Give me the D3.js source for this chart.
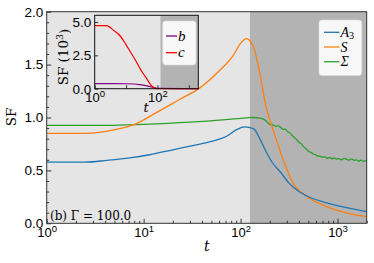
<!DOCTYPE html>
<html>
<head>
<meta charset="utf-8">
<script src="https://cdn.jsdelivr.net/npm/d3@7"></script>
<style>
body { margin: 0; background: #fff; }
svg { display: block; font-family: "DejaVu Serif", serif; }
</style>
</head>
<body>
<div id="myPlot"></div>
<script>
// data
const tMain = [1, 2.5, 4.2, 7.2, 11.5, 20, 32, 51, 71, 91, 110, 125, 138, 158, 178, 214, 260, 316, 400, 479, 760, 1200, 2000];
const a3 = [0.578, 0.578, 0.595, 0.618, 0.648, 0.695, 0.735, 0.776, 0.82, 0.885, 0.912, 0.905, 0.89, 0.80, 0.70, 0.57, 0.48, 0.38, 0.30, 0.26, 0.195, 0.15, 0.11];

const tS = [1, 2.45, 5.2, 8.3, 12.6, 23.4, 38, 60, 83, 100, 115, 135, 158, 182, 214, 275, 347, 479, 760, 1200, 2000];
const sVals = [0.85, 0.85, 0.887, 0.94, 1.03, 1.17, 1.28, 1.44, 1.58, 1.70, 1.745, 1.67, 1.42, 1.11, 0.90, 0.60, 0.38, 0.255, 0.16, 0.10, 0.063];

const tSigma = [1, 4.2, 10, 30, 70, 115, 135, 160, 180, 200, 215, 230, 245, 260, 275, 290, 305, 320, 340, 360, 380, 400, 425, 450, 475, 500, 530, 560, 590, 620, 660, 700, 740, 780, 830, 880, 930, 980, 1040, 1100, 1170, 1240, 1310, 1390, 1470, 1560, 1650, 1750, 1850, 1950, 2000];
const sigma = [0.925, 0.925, 0.935, 0.956, 0.98, 0.997, 1.0, 0.995, 0.975, 0.935, 0.93, 0.918, 0.92, 0.905, 0.888, 0.89, 0.865, 0.858, 0.83, 0.81, 0.79, 0.765, 0.75, 0.72, 0.705, 0.682, 0.672, 0.655, 0.65, 0.638, 0.632, 0.626, 0.628, 0.615, 0.622, 0.61, 0.618, 0.606, 0.612, 0.60, 0.614, 0.605, 0.598, 0.608, 0.596, 0.60, 0.588, 0.597, 0.585, 0.592, 0.588];

// inset (units of 10^3)
const tC = [1, 2.4, 4, 6.6, 9.5, 13.8, 20, 28.8, 41.7, 69, 89, 2000];
const cVals = [4.73, 4.73, 4.37, 3.93, 3.38, 2.75, 2.13, 1.45, 0.88, 0.15, 0, 0];
const tB = [1, 10, 31.6, 69, 100, 2000];
const bVals = [0.38, 0.37, 0.28, 0.12, 0.02, 0];

const tSplit = 125; // start of dark region
const yTicks = [0, 0.5, 1.0, 1.5, 2.0];
const xDecades = [1, 10, 100, 1000];
const insetYTicks = [0, 2.5, 5.0];
const insetXLabels = [1, 100];

const mainLegend = [
    { name: "A", sub: "3", color: "#1f77b4" },
    { name: "S", sub: "", color: "#ff7f0e" },
    { name: "Σ", sub: "", color: "#2ca02c" }
];
const insetLegend = [
    { name: "b", color: "#800080" },
    { name: "c", color: "#ff0000" }
];

const W = 374, H = 263;
const pLeft = 46.7, pRight = 366.7, pTop = 11.7, pBottom = 223.3;

const svg = d3.select("#myPlot").append("svg")
    .attr("width", W).attr("height", H);

const x = d3.scaleLog().domain([1, 2000]).range([pLeft, pRight]);
const y = d3.scaleLinear().domain([0, 2]).range([pBottom, pTop]);

// backgrounds
svg.append("rect").attr("x", pLeft).attr("y", pTop)
    .attr("width", x(tSplit) - pLeft).attr("height", pBottom - pTop).attr("fill", "#e5e5e5");
svg.append("rect").attr("x", x(tSplit)).attr("y", pTop)
    .attr("width", pRight - x(tSplit)).attr("height", pBottom - pTop).attr("fill", "#b3b3b3");

function minorLog(maxT) {
    const out = [];
    xDecades.forEach(d => { for (let k = 2; k <= 9; k++) if (d * k <= maxT) out.push(d * k); });
    return out;
}

function supLabels(sel, size, supSize) {
    sel.selectAll("text").each(function (d) {
        const t = d3.select(this);
        t.text(null);
        t.append("tspan").text("10").attr("font-size", size);
        t.append("tspan").text(Math.round(Math.log10(d))).attr("font-size", supSize).attr("dy", "-0.55em");
    });
}

// main axes
const gx = svg.append("g").attr("transform", "translate(0," + pBottom + ")")
    .call(d3.axisBottom(x).tickValues(xDecades).tickSizeInner(-4.5).tickSizeOuter(0).tickPadding(4));
gx.call(supLabels, "13px", "9.5px");
gx.selectAll("text").attr("fill", "#000").attr("dy", "0.95em");
svg.append("g").attr("transform", "translate(0," + pBottom + ")")
    .call(d3.axisBottom(x).tickValues(minorLog(2000)).tickFormat("").tickSizeInner(-2.5).tickSizeOuter(0));

const gy = svg.append("g").attr("transform", "translate(" + pLeft + ",0)")
    .call(d3.axisLeft(y).tickValues(yTicks).tickFormat(d3.format(".1f")).tickSizeInner(-4.5).tickSizeOuter(0).tickPadding(3.5));
gy.selectAll("text").attr("font-size", "13.5px").attr("fill", "#000");
svg.append("g").attr("transform", "translate(" + pLeft + ",0)")
    .call(d3.axisLeft(y).tickValues(d3.range(0, 2.01, 0.1).filter(v => Math.abs(v * 2 - Math.round(v * 2)) > 0.01)).tickFormat("").tickSizeInner(-2.5).tickSizeOuter(0));

svg.selectAll(".domain").remove();
svg.selectAll(".tick line").attr("stroke", "#333");

// main curves
const line = d3.line().x(d => x(d[0])).y(d => y(d[1])).curve(d3.curveMonotoneX);
svg.append("clipPath").attr("id", "mainClip").append("rect")
    .attr("x", pLeft).attr("y", pTop).attr("width", pRight - pLeft).attr("height", pBottom - pTop);

[[tSigma, sigma, "#2ca02c"], [tS, sVals, "#ff7f0e"], [tMain, a3, "#1f77b4"]].forEach(s => {
    svg.append("path")
        .datum(s[0].map((t, i) => [t, s[1][i]]))
        .attr("clip-path", "url(#mainClip)")
        .attr("fill", "none")
        .attr("stroke", s[2])
        .attr("stroke-width", 1.3)
        .attr("d", line);
});

svg.append("rect").attr("x", pLeft).attr("y", pTop).attr("width", pRight - pLeft).attr("height", pBottom - pTop)
    .attr("fill", "none").attr("stroke", "#333").attr("stroke-width", 1);

// axis labels
svg.append("text").attr("transform", "translate(15.5,117) rotate(-90)")
    .attr("text-anchor", "middle").attr("font-size", "13.5px").text("SF");
svg.append("text").attr("x", (pLeft + pRight) / 2).attr("y", 251)
    .attr("text-anchor", "middle").attr("font-size", "14px").attr("font-style", "italic").text("t");

svg.append("text").attr("x", 50).attr("y", 220).attr("font-size", "12px").text("(b) Γ = 100.0");

// main legend
const lg = svg.append("g");
lg.append("rect").attr("x", 319).attr("y", 20).attr("width", 42.7).attr("height", 55.5)
    .attr("rx", 3).attr("fill", "#fff").attr("fill-opacity", 0.9).attr("stroke", "#ddd").attr("stroke-width", 0.6);
mainLegend.forEach((d, i) => {
    const yy = 32.3 + i * 14.7;
    lg.append("line").attr("x1", 324).attr("x2", 339.5).attr("y1", yy).attr("y2", yy)
        .attr("stroke", d.color).attr("stroke-width", 1.3);
    const t = lg.append("text").attr("x", 340.5).attr("y", yy + 4.5)
        .attr("font-family", "'Liberation Serif', serif").attr("font-size", "14px").attr("font-style", "italic");
    t.append("tspan").text(d.name);
    if (d.sub) t.append("tspan").text(d.sub).attr("font-size", "10px").attr("font-style", "normal").attr("dy", "0.25em");
});

// inset
const iL = 94.7, iR = 198.3, iT = 15.3, iB = 88.7;
const xi = d3.scaleLog().domain([1, 2000]).range([iL, iR]);
const yi = d3.scaleLinear().domain([0, 5.5]).range([iB, iT]);

svg.append("rect").attr("x", iL).attr("y", iT).attr("width", xi(tSplit) - iL).attr("height", iB - iT).attr("fill", "#e5e5e5");
svg.append("rect").attr("x", xi(tSplit)).attr("y", iT).attr("width", iR - xi(tSplit)).attr("height", iB - iT).attr("fill", "#b3b3b3");

const ilg = svg.append("g");
ilg.append("rect").attr("x", 162.7).attr("y", 21).attr("width", 33.3).attr("height", 44)
    .attr("rx", 3).attr("fill", "#fff").attr("fill-opacity", 0.9).attr("stroke", "#ddd").attr("stroke-width", 0.6);
insetLegend.forEach((d, i) => {
    const yy = 36 + i * 16.7;
    ilg.append("line").attr("x1", 166).attr("x2", 177).attr("y1", yy).attr("y2", yy)
        .attr("stroke", d.color).attr("stroke-width", 1.3);
    ilg.append("text").attr("x", 178).attr("y", yy + 4.5)
        .attr("font-family", "'Liberation Serif', serif").attr("font-size", "15px").attr("font-style", "italic").text(d.name);
});

const iline = d3.line().x(d => xi(d[0])).y(d => yi(d[1])).curve(d3.curveMonotoneX);
[[tB, bVals, "#800080"], [tC, cVals, "#ff0000"]].forEach(s => {
    svg.append("path")
        .datum(s[0].map((t, i) => [t, s[1][i]]))
        .attr("fill", "none")
        .attr("stroke", s[2])
        .attr("stroke-width", 1.2)
        .attr("d", iline);
});

const gix = svg.append("g").attr("transform", "translate(0," + iB + ")")
    .call(d3.axisBottom(xi).tickValues(xDecades).tickSizeInner(-3.5).tickSizeOuter(0).tickPadding(4));
gix.selectAll(".tick").filter(d => insetXLabels.indexOf(d) < 0).select("text").remove();
gix.call(supLabels, "13px", "9.5px");
gix.selectAll("text").attr("fill", "#000").attr("dy", "0.95em");

const giy = svg.append("g").attr("transform", "translate(" + iL + ",0)")
    .call(d3.axisLeft(yi).tickValues(insetYTicks).tickFormat(d3.format(".1f")).tickSizeInner(-3.5).tickSizeOuter(0).tickPadding(3.5));
giy.selectAll("text").attr("font-size", "13.5px").attr("fill", "#000");
gix.select(".domain").remove();
giy.select(".domain").remove();
svg.selectAll(".tick line").attr("stroke", "#333");

svg.append("rect").attr("x", iL).attr("y", iT).attr("width", iR - iL).attr("height", iB - iT)
    .attr("fill", "none").attr("stroke", "#111").attr("stroke-width", 1);

const il = svg.append("text").attr("transform", "translate(67.5,57) rotate(-90)")
    .attr("text-anchor", "middle").attr("font-size", "13.5px");
il.append("tspan").text("SF (10");
il.append("tspan").text("3").attr("font-size", "9.5px").attr("dy", "-0.5em");
il.append("tspan").text(")").attr("dy", "0.45em");
svg.append("text").attr("x", 146).attr("y", 112).attr("text-anchor", "middle")
    .attr("font-size", "13px").attr("font-style", "italic").text("t");
</script>
</body>
</html>
